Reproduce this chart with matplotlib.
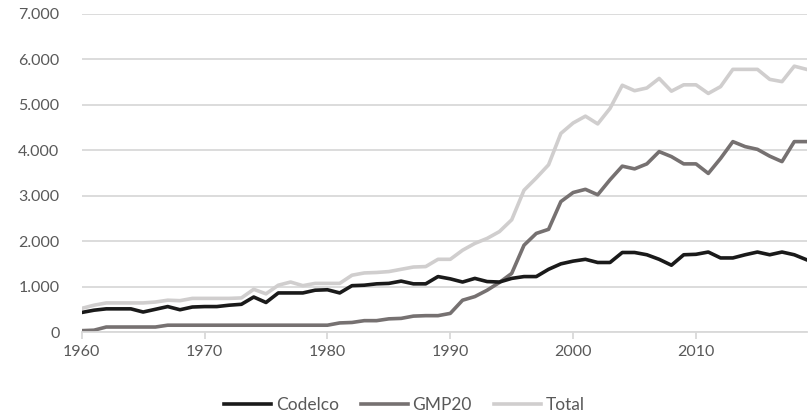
import matplotlib.pyplot as plt
from matplotlib.ticker import FuncFormatter, MultipleLocator

# Datos
years = list(range(1960, 2020))

codelco = [430, 480, 510, 510, 510, 440, 500, 560, 490, 550,
           560, 560, 590, 610, 770, 650, 860, 860, 860, 920,
           930, 860, 1020, 1030, 1060, 1070, 1120, 1060, 1060, 1220,
           1170, 1100, 1180, 1110, 1100, 1180, 1220, 1220, 1380, 1500,
           1560, 1600, 1530, 1530, 1750, 1750, 1700, 1600, 1470, 1700,
           1710, 1760, 1630, 1630, 1700, 1760, 1700, 1760, 1700, 1590]

gmp20 = [30, 40, 110, 110, 110, 110, 110, 150, 150, 150,
         150, 150, 150, 150, 150, 150, 150, 150, 150, 150,
         150, 200, 210, 250, 250, 290, 300, 350, 360, 360,
         410, 700, 780, 920, 1090, 1290, 1910, 2170, 2260, 2870,
         3070, 3140, 3020, 3350, 3650, 3590, 3700, 3970, 3860, 3700,
         3700, 3490, 3820, 4190, 4080, 4020, 3870, 3750, 4190, 4190]

total = [520, 590, 640, 640, 640, 640, 660, 700, 690, 740,
         740, 740, 740, 750, 940, 840, 1030, 1100, 1020, 1070,
         1070, 1070, 1250, 1300, 1310, 1330, 1380, 1430, 1440, 1600,
         1600, 1800, 1950, 2060, 2210, 2470, 3120, 3390, 3680, 4370,
         4600, 4750, 4580, 4920, 5430, 5310, 5370, 5580, 5300, 5440,
         5440, 5250, 5400, 5780, 5780, 5780, 5560, 5510, 5850, 5780]

series_names = ["Codelco", "GMP20", "Total"]

plt.rcParams['font.family'] = ['Lato', 'DejaVu Sans']

fig = plt.figure(figsize=(8.09, 4.18), dpi=100)
ax = fig.add_axes([0.101, 0.2057, 0.896, 0.761])

ax.plot(years, codelco, color="#1a1a1a", lw=2.6, label=series_names[0], zorder=3)
ax.plot(years, gmp20, color="#767171", lw=2.6, label=series_names[1], zorder=2)
ax.plot(years, total, color="#d0cece", lw=2.6, label=series_names[2], zorder=1)

ax.set_xlim(1960, 2019)
ax.set_ylim(0, 7000)
ax.yaxis.set_major_locator(MultipleLocator(1000))
ax.yaxis.set_major_formatter(FuncFormatter(lambda v, p: f"{int(v):,}".replace(",", ".")))
ax.set_xticks([1960, 1970, 1980, 1990, 2000, 2010])

ax.grid(axis="y", color="#d9d9d9", lw=1.3, zorder=0)
ax.set_axisbelow(True)
for s in ["top", "right", "left"]:
    ax.spines[s].set_visible(False)
ax.spines["bottom"].set_color("#d9d9d9")
ax.spines["bottom"].set_linewidth(1.3)

ax.tick_params(axis="y", length=0, pad=16, labelsize=11.5, labelcolor="#595959")
ax.tick_params(axis="x", length=5, width=1.3, color="#d9d9d9", pad=4,
               labelsize=11.5, labelcolor="#595959")

leg = fig.legend(loc="lower center", bbox_to_anchor=(0.5, -0.025), ncol=3, frameon=False,
                 handlelength=2.7, handletextpad=0.25, columnspacing=1.3, fontsize=12.5)
for t in leg.get_texts():
    t.set_color("#595959")

fig.savefig("out.png", dpi=100)
